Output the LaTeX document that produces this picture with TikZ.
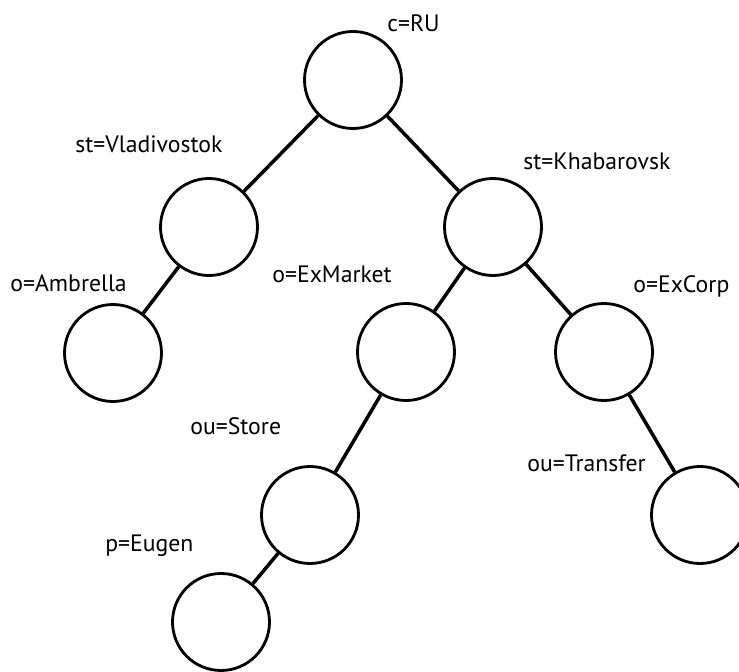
\documentclass[tikz,border=0pt]{standalone}
\usepackage{fontspec}
\setmainfont{PT Sans}
\usepackage{tikz}
\usetikzlibrary{positioning}

\tikzset{
  vert/.style={draw,circle,line width=1.6pt,minimum size=1.94cm,inner sep=0pt},
  edge/.style={line width=2pt},
  lbl/.style={anchor=base west,inner sep=0pt,font=\fontsize{13.5}{16}\selectfont}
}

\begin{document}
\begin{tikzpicture}
%\draw[help lines] (0,0) grid (15,14);
\useasboundingbox (0,0) rectangle (14.78,13.42);

% vertices
\node[vert] (root)  at (7.06,11.82) {};
\node[vert] (vlad)  at (4.18,8.88) {};
\node[vert] (khab)  at (9.86,8.88) {};
\node[vert] (ambr)  at (2.26,6.36) {};
\node[vert] (exmk)  at (8.12,6.38) {};
\node[vert] (excp)  at (12.08,6.38) {};
\node[vert] (store) at (6.20,3.12) {};
\node[vert] (trans) at (14.00,3.12) {};
\node[vert] (eugen) at (4.42,0.98) {};

% edges
\draw[edge] (root) -- (vlad);
\draw[edge] (root) -- (khab);
\draw[edge] (vlad) -- (ambr);
\draw[edge] (khab) -- (exmk);
\draw[edge] (khab) -- (excp);
\draw[edge] (exmk) -- (store);
\draw[edge] (excp) -- (trans);
\draw[edge] (store) -- (eugen);

% labels
\node[lbl] (lroot)  at (7.74,12.78) {c=RU};
\node[lbl] (lvlad)  at (1.50,10.36) {st=Vladivostok};
\node[lbl] (lkhab)  at (10.46,10.02) {st=Khabarovsk};
\node[lbl] (lambr)  at (0.20,7.58) {o=Ambrella};
\node[lbl] (lexmk)  at (5.44,7.76) {o=ExMarket};
\node[lbl] (lexcp)  at (12.66,7.56) {o=ExCorp};
\node[lbl] (lstore) at (3.80,4.72) {ou=Store};
\node[lbl] (ltrans) at (10.54,3.98) {ou=Transfer};
\node[lbl] (leugen) at (2.10,2.38) {p=Eugen};

\end{tikzpicture}
\end{document}
